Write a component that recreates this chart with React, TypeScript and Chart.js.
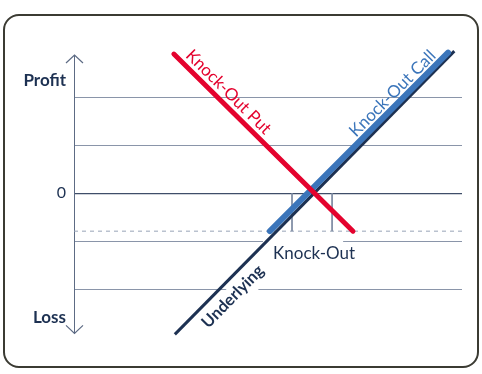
import React, { useEffect, useRef } from "react";
import { Chart, registerables } from "chart.js";

Chart.register(...registerables);

// ---- data (value units: 1 unit = one grid step) ----
const yTickValues = [-2.58, -2, -1, 0, 1, 2, 2.35];
const yTickLabels: [number, string][] = [
  [2.35, "Profit"],
  [0, "0"],
  [-2.58, "Loss"],
];
const gridValues = [-2, -1, 0, 1, 2];

const underlyingX = [2.1, 7.92];
const underlyingY = [-2.94, 2.96];
const callX = [4.08, 7.79];
const callY = [-0.79, 2.93];
const putX = [2.08, 5.81];
const putY = [2.9, -0.79];
const knockOutLevel = -0.79;
const knockOutSpanX = [0, 8.08];
const markerX = [4.54, 5.375];
const markerY = [0, -0.79];

const lineNames = ["Underlying", "Knock-Out Call", "Knock-Out Put"];
const knockOutText = "Knock-Out";

const NAVY = "#1d3152";
const RED = "#e4032e";
const BLUE = "#3b75ba";
const GRID = "#8a95a9";
const ZERO = "#3f4e69";
const AXIS = "#5d6b84";
const FONT = "Lato, 'Open Sans', sans-serif";

const pts = (xs: number[], ys: number[]) => xs.map((x, i) => ({ x, y: ys[i] }));

function lineLabel(
  chart: any,
  xs: number[],
  ys: number[],
  t: number,
  offset: number,
  text: string,
  font: string,
  color: string,
  bg: boolean,
  fillText: boolean
) {
  const ctx = chart.ctx;
  const sx = chart.scales.x;
  const sy = chart.scales.y;
  const x1 = sx.getPixelForValue(xs[0]);
  const y1 = sy.getPixelForValue(ys[0]);
  const x2 = sx.getPixelForValue(xs[1]);
  const y2 = sy.getPixelForValue(ys[1]);
  const a = Math.atan2(y2 - y1, x2 - x1);
  const px = x1 + (x2 - x1) * t + Math.sin(a) * offset;
  const py = y1 + (y2 - y1) * t - Math.cos(a) * offset;
  ctx.save();
  ctx.translate(px, py);
  ctx.rotate(a);
  ctx.font = font;
  const w = ctx.measureText(text).width;
  if (bg) {
    ctx.fillStyle = "#ffffff";
    ctx.fillRect(-w / 2 - 4, -15, w + 8, 23);
  }
  if (fillText) {
    ctx.fillStyle = color;
    ctx.textAlign = "center";
    ctx.textBaseline = "alphabetic";
    ctx.fillText(text, 0, 0);
  }
  ctx.restore();
}

const annotate = {
  id: "annotate",
  beforeDatasetsDraw(chart: any) {
    const ctx = chart.ctx;
    const sx = chart.scales.x;
    const sy = chart.scales.y;
    // white backgrounds behind labels (break the grid lines)
    lineLabel(chart, underlyingX, underlyingY, 0.17, -20, lineNames[0], `bold 16.5px ${FONT}`, NAVY, true, false);
    ctx.save();
    ctx.font = `17px ${FONT}`;
    const w = ctx.measureText(knockOutText).width;
    const cx = sx.getPixelForValue((markerX[0] + markerX[1]) / 2);
    const ly = sy.getPixelForValue(knockOutLevel);
    ctx.fillStyle = "#ffffff";
    ctx.fillRect(cx - w / 2 - 8, ly + 6, w - 2, 10);
    ctx.restore();
  },
  afterDatasetsDraw(chart: any) {
    const ctx = chart.ctx;
    const { left, top, bottom } = chart.chartArea;
    const sx = chart.scales.x;
    const sy = chart.scales.y;
    // axis arrow heads
    ctx.save();
    ctx.strokeStyle = AXIS;
    ctx.lineWidth = 1.2;
    ctx.beginPath();
    ctx.moveTo(left - 8, top + 8);
    ctx.lineTo(left + 0.5, top);
    ctx.lineTo(left + 9, top + 8);
    ctx.moveTo(left - 8, bottom - 8);
    ctx.lineTo(left + 0.5, bottom);
    ctx.lineTo(left + 9, bottom - 8);
    ctx.stroke();
    ctx.restore();

    lineLabel(chart, putX, putY, 0.26, 6, lineNames[2], `17px ${FONT}`, RED, false, true);
    lineLabel(chart, callX, callY, 0.73, 5, lineNames[1], `17px ${FONT}`, BLUE, false, true);
    lineLabel(chart, underlyingX, underlyingY, 0.17, -20, lineNames[0], `bold 16.5px ${FONT}`, NAVY, false, true);

    ctx.save();
    ctx.font = `17px ${FONT}`;
    ctx.fillStyle = NAVY;
    ctx.textAlign = "center";
    ctx.textBaseline = "middle";
    const cx = sx.getPixelForValue((markerX[0] + markerX[1]) / 2);
    const ly = sy.getPixelForValue(knockOutLevel);
    ctx.fillText(knockOutText, cx + 2, ly + 22);
    ctx.restore();
  },
};

export default function App() {
  const ref = useRef<HTMLCanvasElement | null>(null);

  useEffect(() => {
    if (!ref.current) return;
    const chart = new Chart(ref.current, {
      type: "line",
      data: {
        datasets: [
          {
            label: "Knock-Out Put",
            data: pts(putX, putY),
            borderColor: RED,
            borderWidth: 5,
            borderCapStyle: "round",
            pointRadius: 0,
            clip: false,
            order: 1,
          },
          {
            label: "Knock-Out Call",
            data: pts(callX, callY),
            borderColor: BLUE,
            borderWidth: 6,
            borderCapStyle: "round",
            pointRadius: 0,
            clip: false,
            order: 2,
          },
          {
            label: "Underlying",
            data: pts(underlyingX, underlyingY),
            borderColor: NAVY,
            borderWidth: 3,
            borderCapStyle: "butt",
            pointRadius: 0,
            clip: false,
            order: 3,
          },
          {
            label: "Knock-Out level",
            data: pts(knockOutSpanX, [knockOutLevel, knockOutLevel]),
            borderColor: "#98a4b7",
            borderWidth: 1,
            borderDash: [4, 4],
            pointRadius: 0,
            order: 6,
          },
          {
            label: "marker1",
            data: pts([markerX[0], markerX[0]], markerY),
            borderColor: "#7f8ca3",
            borderWidth: 1,
            pointRadius: 0,
            order: 5,
          },
          {
            label: "marker2",
            data: pts([markerX[1], markerX[1]], markerY),
            borderColor: "#7f8ca3",
            borderWidth: 1,
            pointRadius: 0,
            order: 5,
          },
        ],
      },
      options: {
        responsive: true,
        maintainAspectRatio: false,
        animation: false,
        layout: { padding: { left: 0, right: 20, top: 55, bottom: 40.6 } },
        plugins: {
          legend: { display: false },
          tooltip: { enabled: false },
        },
        elements: { line: { tension: 0 } },
        scales: {
          x: {
            type: "linear",
            min: knockOutSpanX[0],
            max: knockOutSpanX[1],
            display: false,
          },
          y: {
            type: "linear",
            min: -2.92,
            max: 2.88,
            afterBuildTicks: (scale: any) => {
              scale.ticks = yTickValues.map((v) => ({ value: v }));
            },
            afterFit: (scale: any) => {
              scale.width = 74;
            },
            border: { display: true, color: AXIS, width: 1 },
            grid: {
              drawTicks: false,
              color: (c: any) => {
                const v = c.tick?.value;
                if (!gridValues.includes(v)) return "rgba(0,0,0,0)";
                return v === 0 ? ZERO : GRID;
              },
              lineWidth: (c: any) => (c.tick?.value === 0 ? 1.3 : 1),
            },
            ticks: {
              autoSkip: false,
              padding: 8,
              color: NAVY,
              font: (c: any) => ({
                family: FONT,
                size: c.tick && c.tick.value === 0 ? 16 : 17,
                weight: c.tick && c.tick.value === 0 ? "normal" : "bold",
              }),
              callback: (v: any) => {
                const hit = yTickLabels.find(([val]) => Math.abs(val - Number(v)) < 1e-6);
                return hit ? hit[1] : "";
              },
            },
          },
        },
      },
      plugins: [annotate],
    });
    return () => chart.destroy();
  }, []);

  return (
    <div style={{ position: "absolute", left: 0, top: 0, width: 482, height: 374, background: "#fff" }}>
      <div
        style={{
          position: "absolute",
          left: 3,
          top: 14,
          width: 472,
          height: 350,
          border: "2px solid #3b3b33",
          borderRadius: 16,
        }}
      />
      <div style={{ position: "absolute", left: 0, top: 0, width: 482, height: 374 }}>
        <canvas ref={ref} />
      </div>
    </div>
  );
}
